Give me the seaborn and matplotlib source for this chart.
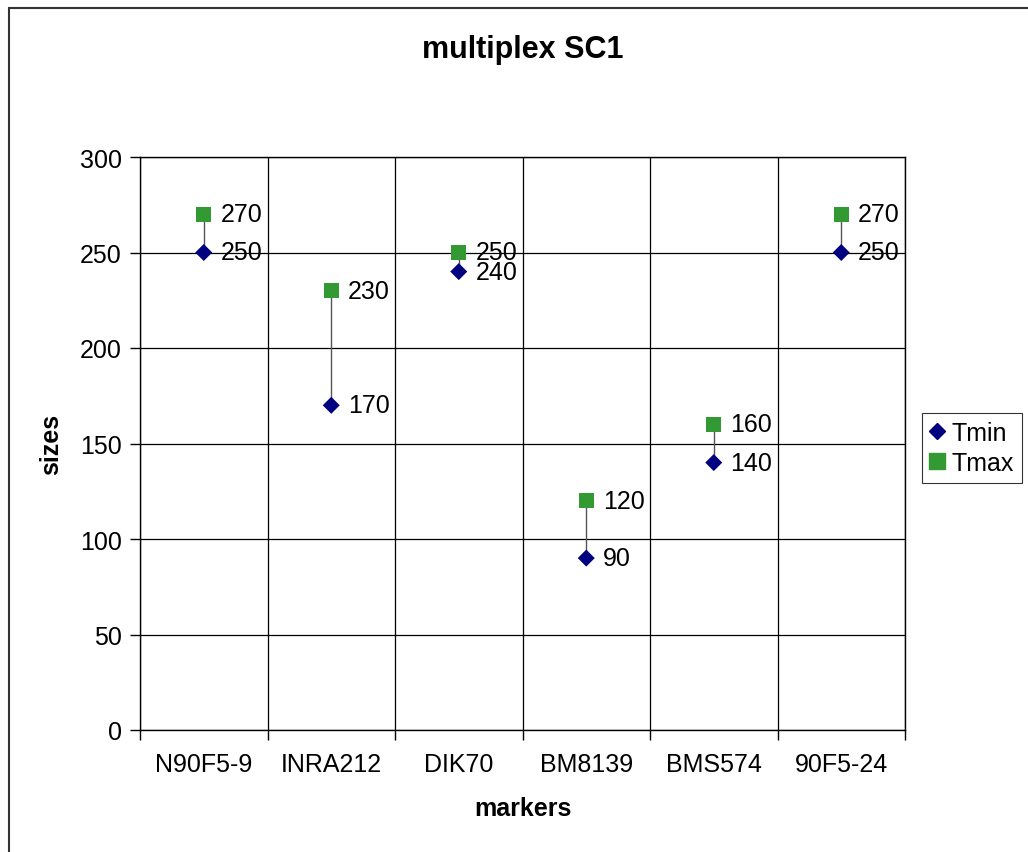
import pandas as pd
import numpy as np
import matplotlib.pyplot as plt
import seaborn as sns
from matplotlib.patches import Rectangle
from matplotlib.lines import Line2D

# data
markers = ["N90F5-9", "INRA212", "DIK70", "BM8139", "BMS574", "90F5-24"]
tmin = [250, 170, 240, 90, 140, 250]
tmax = [270, 230, 250, 120, 160, 270]

df = pd.DataFrame({"markers": markers, "Tmin": tmin, "Tmax": tmax})
long = df.melt(id_vars="markers", var_name="serie", value_name="sizes")

sns.set_style("white")
plt.rcParams["font.family"] = ["Liberation Sans", "DejaVu Sans"]
for k in ["text.color", "axes.labelcolor", "xtick.color", "ytick.color"]:
    plt.rcParams[k] = "black"

fig = plt.figure(figsize=(10.28, 8.53), dpi=100)
ax = fig.add_axes([140/1028, 1-731/853, (905-140)/1028, (731-158)/853])

# high-low lines
pos = np.arange(len(markers))
ax.vlines(pos, df["Tmin"], df["Tmax"], color="#555555", lw=1, zorder=2)

sns.scatterplot(data=long, x="markers", y="sizes", hue="serie", style="serie",
                size="serie", sizes={"Tmin": 75, "Tmax": 120},
                markers={"Tmin": "D", "Tmax": "s"},
                palette={"Tmin": "#000080", "Tmax": "#339933"},
                edgecolor="none", ax=ax, zorder=3, legend=False)

# value labels
for i in range(len(markers)):
    ax.text(i + 0.13, tmin[i], str(tmin[i]), va="center", ha="left", fontsize=18, zorder=4)
    ax.text(i + 0.13, tmax[i], str(tmax[i]), va="center", ha="left", fontsize=18, zorder=4)

ax.set_xlim(-0.5, len(markers) - 0.5)
ax.set_ylim(0, 300)
ax.set_yticks(range(0, 301, 50))
ax.set_xticks(pos)
ax.set_xticks(np.arange(-0.5, len(markers), 1), minor=True)
ax.grid(True, which="minor", axis="x", color="black", lw=0.9)
ax.grid(True, which="major", axis="y", color="black", lw=0.9)
ax.tick_params(axis="x", which="major", length=0, labelsize=18, pad=16)
ax.tick_params(axis="x", which="minor", length=7, width=1, direction="out", bottom=True)
ax.tick_params(axis="y", length=7, width=1, direction="out", left=True, labelsize=18, pad=6)
for sp in ax.spines.values():
    sp.set_color("black")
    sp.set_linewidth(1)
ax.set_axisbelow(True)

ax.set_xlabel("markers", fontsize=18, fontweight="bold", labelpad=14)
ax.set_ylabel("sizes", fontsize=18, fontweight="bold", labelpad=12)
fig.text(0.5 * (140 + 905) / 1028, 1 - 50/853, "multiplex SC1", ha="center", va="center",
         fontsize=22, fontweight="bold")

# legend
handles = [Line2D([], [], marker="D", ls="none", color="#000080", markersize=8),
           Line2D([], [], marker="s", ls="none", color="#339933", markersize=11)]
leg = fig.legend(handles, ["Tmin", "Tmax"], loc="center left",
                 bbox_to_anchor=(922/1028, 1 - 449/853), fontsize=18,
                 frameon=True, fancybox=False, edgecolor="black",
                 handlelength=0.6, handletextpad=0.3, borderpad=0.3,
                 borderaxespad=0, labelspacing=0.25)
leg.get_frame().set_linewidth(0.8)

# outer chart border
fig.patches.append(Rectangle((9/1028, -0.1), 1.2, 1 - 9/853 + 0.1, transform=fig.transFigure,
                             fill=False, edgecolor="#333333", lw=1.5))

fig.savefig("out.png", dpi=100)
